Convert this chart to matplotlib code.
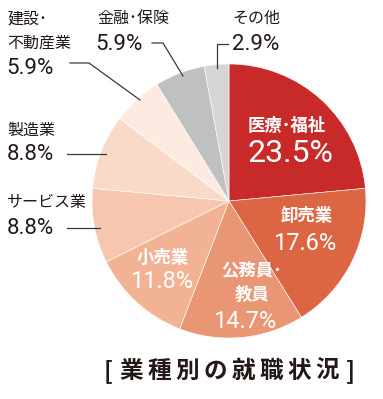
import matplotlib
matplotlib.use("Agg")
from matplotlib import pyplot as plt

plt.rcParams['font.family'] = ['Noto Sans CJK JP', 'DejaVu Sans']

# データ
categories = ['医療･福祉', '卸売業', '公務員･\n教員', '小売業', 'サービス業', '製造業', '建設･\n不動産業', '金融･保険', 'その他']
values = [23.5, 17.6, 14.7, 11.8, 8.8, 8.8, 5.9, 5.9, 2.9]
pct_labels = ['23.5%', '17.6%', '14.7%', '11.8%', '8.8%', '8.8%', '5.9%', '5.9%', '2.9%']
colors = ['#c82a2a', '#dc6643', '#e89674', '#f2b394', '#f6c7ae', '#f9d9c8', '#fdeae1', '#bfc0c0', '#d6d6d6']
title = '[業種別の就職状況]'

W, H = 383, 399
fig = plt.figure(figsize=(W / 100, H / 100), dpi=100)
ax = fig.add_axes([0, 0, 1, 1])

def p(x, y):
    # ピクセル座標 -> データ座標
    return x, H - y

ax.pie(values, colors=colors, startangle=90, counterclock=False,
       center=p(229, 201), radius=137,
       wedgeprops=dict(edgecolor='white', linewidth=0.4))
ax.set_xlim(0, W)
ax.set_ylim(0, H)
ax.set_aspect('equal')
ax.axis('off')

dark = '#231815'
small = 11.5
big = 16
numfont = dict(family=['Roboto', 'DejaVu Sans'], fontweight='normal')

# 内側のラベル (白)
inside = {0: ((287, 126), (290, 154), 23),
          1: ((307, 216), (305, 243), 17),
          3: ((163, 258), (162, 282), 17)}
for i, (cpos, ppos, fs) in inside.items():
    ax.text(*p(*cpos), categories[i], color='white', fontsize=12.5, fontweight='bold',
            ha='center', va='center')
    ax.text(*p(*ppos), pct_labels[i], color='white', fontsize=fs,
            ha='center', va='center', **numfont)
ax.text(*p(252, 283), categories[2], color='white', fontsize=12.5, fontweight='bold',
        ha='center', va='center', linespacing=1.45)
ax.text(*p(245, 321), pct_labels[2], color='white', fontsize=17,
        ha='center', va='center', **numfont)

# 外側のラベル
outside = {4: ((7, 203), (7, 228)),
           5: ((7, 130), (7, 155)),
           7: ((97, 18), (95, 45)),
           8: ((232, 18), (232, 45))}
for i, (cpos, ppos) in outside.items():
    ax.text(*p(*cpos), categories[i], color=dark, fontsize=small, ha='left', va='center')
    ax.text(*p(*ppos), pct_labels[i], color=dark, fontsize=big, ha='left', va='center',
            **numfont)
ax.text(*p(7, 31), categories[6], color=dark, fontsize=small, ha='left', va='center',
        linespacing=1.55)
ax.text(*p(6, 68), pct_labels[6], color=dark, fontsize=big, ha='left', va='center',
        **numfont)

# 引き出し線
leaders = [
    [(217, 68), (217, 44), (228, 44)],
    [(152, 43), (163, 43), (183, 76)],
    [(70, 63), (89, 63), (140, 100)],
    [(67, 154), (106, 154)],
    [(67, 228), (100, 228)],
]
for pts in leaders:
    xs = [p(*q)[0] for q in pts]
    ys = [p(*q)[1] for q in pts]
    ax.plot(xs, ys, color='#3a3a3a', linewidth=0.9)

# タイトル (字間を広めに)
step = 28
title_x = [108] + [131 + step * k for k in range(len(title) - 2)] + [350]
for ch, tx in zip(title, title_x):
    ax.text(*p(tx, 371), ch, color=dark, fontsize=17, fontweight='bold',
            ha='center', va='center')

fig.savefig('out.png', dpi=100)
